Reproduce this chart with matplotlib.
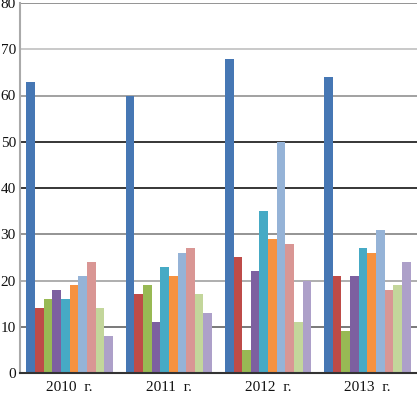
import matplotlib
matplotlib.use('Agg')
import matplotlib.pyplot as plt
import numpy as np

# data
years = ['2010  г.', '2011  г.', '2012  г.', '2013  г.']
s1 = [63, 60, 68, 64]
s2 = [14, 17, 25, 21]
s3 = [16, 19, 5, 9]
s4 = [18, 11, 22, 21]
s5 = [16, 23, 35, 27]
s6 = [19, 21, 29, 26]
s7 = [21, 26, 50, 31]
s8 = [24, 27, 28, 18]
s9 = [14, 17, 11, 19]
s10 = [8, 13, 20, 24]
series = [s1, s2, s3, s4, s5, s6, s7, s8, s9, s10]

colors = ['#4677B4', '#BE4B48', '#98B954', '#7D60A0', '#46AAC5',
          '#F69240', '#95B3D7', '#D99694', '#C3D69B', '#ADA0C9']

plt.rcParams['font.family'] = ['Liberation Serif', 'DejaVu Serif']

fig = plt.figure(figsize=(4.17, 3.98), dpi=100)
ax = fig.add_axes([20/417, 25/398, 397/417, 370/398])

x = np.arange(len(years))
w = 0.087
n = len(series)
for k, s in enumerate(series):
    ax.bar(x + (k - (n - 1)/2)*w, s, width=w, color=colors[k], zorder=3)

# grid lines (scan gives them uneven shades)
grid_cols = {10: '#555555', 20: '#999999', 30: '#777777', 40: '#000000',
             50: '#000000', 60: '#888888', 70: '#bbbbbb', 80: '#777777'}
for v, c in grid_cols.items():
    ax.axhline(v, color=c, lw=1.1, zorder=1)

ax.set_xlim(-0.5, 3.5)
ax.set_ylim(0, 80)
ax.set_yticks(np.arange(0, 81, 10))
ax.set_xticks(x)
ax.set_xticklabels(years)
ax.tick_params(axis='both', length=0, labelsize=11, colors='#111111')
ax.tick_params(axis='y', pad=3)
ax.tick_params(axis='x', pad=6)

for sp in ['top', 'right']:
    ax.spines[sp].set_visible(False)
ax.spines['left'].set_color('#aaaaaa')
ax.spines['left'].set_linewidth(1.5)
ax.spines['bottom'].set_color('#333333')
ax.spines['bottom'].set_linewidth(1.5)
ax.spines['bottom'].set_zorder(4)

fig.savefig('out.png', dpi=100)
